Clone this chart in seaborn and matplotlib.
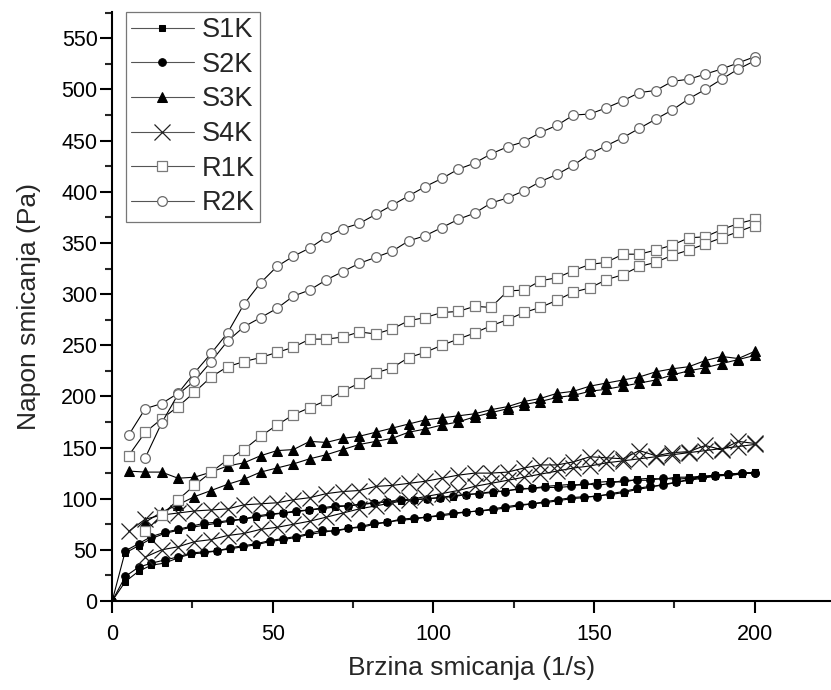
import numpy as np
import pandas as pd
import matplotlib
matplotlib.use('Agg')
import matplotlib.pyplot as plt
import seaborn as sns
from matplotlib.ticker import MultipleLocator

# shear rate steps (1/s)
x_r = [5.1, 10.3, 15.4, 20.5, 25.6, 30.8, 35.9, 41.0, 46.2, 51.3, 56.4, 61.5, 66.7,
       71.8, 76.9, 82.1, 87.2, 92.3, 97.4, 102.6, 107.7, 112.8, 117.9, 123.1, 128.2,
       133.3, 138.5, 143.6, 148.7, 153.8, 159.0, 164.1, 169.2, 174.4, 179.5, 184.6,
       189.7, 194.9, 200.0]
x_s = [4.1, 8.2, 12.2, 16.3, 20.4, 24.5, 28.6, 32.7, 36.7, 40.8, 44.9, 49.0, 53.1,
       57.1, 61.2, 65.3, 69.4, 73.5, 77.6, 81.6, 85.7, 89.8, 93.9, 98.0, 102.0, 106.1,
       110.2, 114.3, 118.4, 122.4, 126.5, 130.6, 134.7, 138.8, 142.9, 146.9, 151.0,
       155.1, 159.2, 163.3, 167.3, 171.4, 175.5, 179.6, 183.7, 187.8, 191.8, 195.9, 200.0]

# shear stress (Pa)
s1k_low = [19, 29, 35, 37, 42, 46, 47, 49, 51, 53, 55, 58, 60, 62, 65, 67, 69, 71, 72, 75,
           77, 79, 80, 82, 83, 85, 87, 88, 89, 91, 93, 95, 96, 98, 100, 101, 103, 104, 106, 109,
           111, 114, 116, 118, 120, 122, 123, 124, 126]
s1k_high = [47, 54, 61, 66, 69, 72, 74, 76, 78, 80, 82, 84, 86, 87, 89, 90, 92, 93, 94, 96,
            97, 98, 99, 100, 101, 102, 104, 105, 106, 108, 109, 110, 112, 113, 114, 113, 116, 117, 116, 119,
            120, 119, 121, 121, 122, 123, 123, 124, 126]
s2k_low = [24, 33, 37, 40, 43, 47, 48, 49, 52, 54, 56, 59, 61, 63, 66, 69, 68, 71, 73, 76,
           77, 80, 81, 82, 84, 86, 87, 88, 90, 92, 94, 95, 97, 99, 101, 102, 102, 105, 107, 110,
           112, 113, 116, 119, 121, 122, 124, 125, 125]
s2k_high = [49, 56, 63, 67, 70, 73, 76, 77, 79, 80, 83, 85, 86, 88, 89, 91, 93, 93, 95, 96,
            97, 99, 99, 100, 101, 103, 104, 105, 107, 107, 110, 110, 111, 111, 112, 115, 113, 115, 118, 118,
            118, 120, 119, 120, 121, 123, 124, 125, 125]
s3k_up = [127, 126, 126, 120, 121, 126, 132, 135, 142, 147, 148, 156, 155, 159, 161, 165, 169, 173, 177, 179,
          181, 183, 187, 190, 195, 198, 203, 205, 210, 213, 216, 219, 224, 227, 229, 235, 239, 237, 244]
s3k_down = [77, 87, 94, 102, 108, 114, 119, 126, 130, 134, 139, 143, 148, 153, 156, 159, 165, 168, 172,
            175, 180, 184, 188, 192, 195, 199, 201, 205, 207, 210, 213, 216, 221, 225, 228, 232, 236, 240]
s4k_up = [68, 80, 84, 86, 88, 89, 90, 94, 95, 96, 99, 101, 105, 107, 108, 112, 113, 115, 117, 120,
          123, 125, 125, 126, 130, 133, 133, 136, 141, 140, 139, 147, 142, 145, 146, 152, 148, 156, 154]
s4k_down = [43, 50, 53, 58, 60, 64, 66, 70, 72, 75, 78, 82, 86, 90, 93, 96, 99, 102, 105,
            108, 112, 115, 118, 121, 124, 127, 130, 132, 135, 137, 139, 141, 143, 145, 147, 149, 151, 153]
r1k_up = [142, 165, 178, 190, 204, 219, 229, 234, 238, 243, 248, 256, 256, 258, 263, 261, 266, 274, 277, 282,
          283, 288, 287, 303, 304, 313, 316, 323, 329, 331, 339, 339, 343, 348, 355, 356, 363, 369, 373]
r1k_down = [68, 84, 99, 113, 126, 138, 148, 161, 172, 182, 189, 196, 205, 213, 223, 228, 238, 243, 250,
            256, 262, 269, 275, 282, 287, 294, 302, 306, 314, 319, 327, 331, 338, 343, 349, 355, 361, 367]
r2k_up = [162, 188, 193, 203, 223, 242, 262, 290, 311, 327, 337, 345, 356, 364, 369, 378, 387, 396, 405, 413,
          422, 428, 437, 444, 449, 458, 465, 475, 476, 482, 489, 497, 499, 508, 510, 515, 520, 526, 532]
r2k_down = [140, 174, 202, 215, 234, 254, 268, 277, 286, 298, 304, 314, 322, 330, 336, 342, 352, 357, 365,
            373, 379, 389, 394, 401, 410, 417, 426, 437, 445, 453, 462, 471, 480, 491, 500, 510, 520, 528]


def loop(x_up, y_up, x_down, y_down, start=None, end=None):
    # up curve then down curve back, as one line
    xs = list(x_up) + list(x_down)[::-1]
    ys = list(y_up) + list(y_down)[::-1]
    if start is not None:
        xs = [start[0]] + xs
        ys = [start[1]] + ys
    if end is not None:
        xs = xs + [end[0]]
        ys = ys + [end[1]]
    return pd.DataFrame({'x': xs, 'y': ys})


series = [
    ('S1K', loop(x_s, s1k_low, x_s, s1k_high, start=(0, 0)),
     dict(marker='s', markersize=5, color='black', mfc='black', mec='black')),
    ('S2K', loop(x_s, s2k_low, x_s, s2k_high, start=(0, 0), end=(0, 0)),
     dict(marker='o', markersize=5.5, color='black', mfc='black', mec='black')),
    ('S3K', loop(x_r, s3k_up, x_r[1:], s3k_down),
     dict(marker='^', markersize=6.5, color='black', mfc='black', mec='black')),
    ('S4K', loop(x_r, s4k_up, x_r[1:], s4k_down),
     dict(marker='x', markersize=11, mew=0.9, color='black', mec='#222222')),
    ('R1K', loop(x_r, r1k_up, x_r[1:], r1k_down),
     dict(marker='s', markersize=6.5, mew=0.9, color='black', mfc='white', mec='#7a7a7a')),
    ('R2K', loop(x_r, r2k_up, x_r[1:], r2k_down),
     dict(marker='o', markersize=7, mew=0.9, color='black', mfc='white', mec='#6a6a6a')),
]

sns.set_style('ticks')
plt.rcParams['font.family'] = ['Liberation Sans', 'DejaVu Sans']

fig = plt.figure(figsize=(8.31, 6.90), dpi=100)
ax = fig.add_axes([0.135, 0.129, 0.864, 0.854])

for name, df, kw in series:
    sns.lineplot(data=df, x='x', y='y', sort=False, estimator=None, ax=ax,
                 linewidth=0.8, label=name, **kw)

ax.set_xlim(0, 223.5)
ax.set_ylim(0, 576)
ax.xaxis.set_major_locator(MultipleLocator(50))
ax.xaxis.set_minor_locator(MultipleLocator(25))
ax.yaxis.set_major_locator(MultipleLocator(50))
ax.yaxis.set_minor_locator(MultipleLocator(25))
ax.tick_params(which='major', length=8.5, width=1.5, labelsize=15.5, colors='black')
ax.tick_params(which='minor', length=5, width=1.5)
ax.tick_params(axis='x', which='major', pad=8)
ax.tick_params(axis='y', which='major', pad=2)
for side in ['top', 'right']:
    ax.spines[side].set_visible(False)
for side in ['left', 'bottom']:
    ax.spines[side].set_linewidth(1.5)
    ax.spines[side].set_color('black')

ax.set_xlabel('Brzina smicanja (1/s)', fontsize=19, labelpad=8)
ax.set_ylabel('Napon smicanja (Pa)', fontsize=19, labelpad=15)

leg = ax.legend(loc='upper left', bbox_to_anchor=(0.019, 1.0), fontsize=19.5,
                frameon=True, fancybox=False, edgecolor='#555555',
                handlelength=2.3, handletextpad=0.3, labelspacing=0.32,
                borderpad=0.2, borderaxespad=0.0)
leg.get_frame().set_linewidth(0.9)
for line in leg.get_lines():
    line.set_color('#555555')

fig.savefig('out.png', dpi=100)
